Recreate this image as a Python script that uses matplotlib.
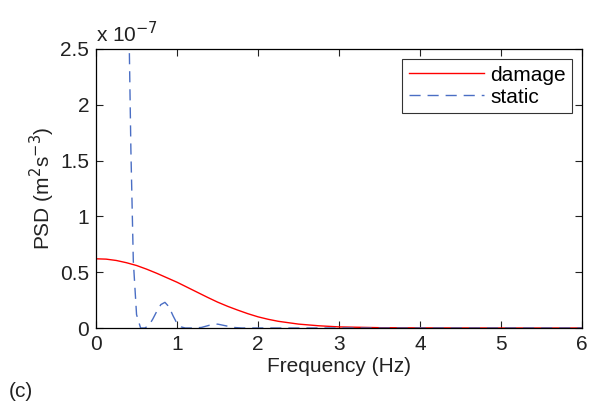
import matplotlib.pyplot as plt

plt.rcParams["font.family"] = ["Liberation Sans", "DejaVu Sans"]

# PSD values in units of 1e-7 m^2 s^-3
freq_damage = [0.0, 0.125, 0.25, 0.375, 0.5, 0.625, 0.75, 0.875, 1.0, 1.125, 1.25,
               1.375, 1.5, 1.625, 1.75, 1.875, 2.0, 2.125, 2.25, 2.5, 2.75,
               3.0, 3.5, 4.0, 5.0, 6.0]
psd_damage = [0.62, 0.617, 0.605, 0.585, 0.56, 0.527, 0.49, 0.45, 0.41, 0.365,
              0.32, 0.275, 0.232, 0.194, 0.16, 0.128, 0.10, 0.078, 0.06, 0.035,
              0.02, 0.01, 0.003, 0.001, 0.0, 0.0]

freq_static = [0.0, 0.2, 0.35, 0.40, 0.43, 0.46, 0.50, 0.55, 0.60, 0.65, 0.70,
               0.75, 0.80, 0.85, 0.90, 0.95, 1.00, 1.05, 1.10, 1.20, 1.30, 1.40,
               1.50, 1.60, 1.70, 1.80, 2.0, 3.0, 4.0, 5.0, 6.0]
psd_static = [40.0, 20.0, 6.0, 3.0, 1.6, 0.6, 0.12, 0.0, 0.0, 0.02, 0.08,
              0.15, 0.21, 0.23, 0.19, 0.11, 0.04, 0.01, 0.0, 0.0, 0.005, 0.025,
              0.035, 0.02, 0.005, 0.0, 0.0, 0.0, 0.0, 0.0, 0.0]

fig = plt.figure(figsize=(6.04, 4.01), dpi=100)
ax = fig.add_axes([0.159, 0.182, 0.805, 0.696])

ax.plot(freq_damage, psd_damage, color="#ff0000", linewidth=1.0, label="damage")
ax.plot(freq_static, psd_static, color="#4a6ec4", linewidth=1.0,
        linestyle=(0, (8, 5)), label="static")

ax.set_xlim(0, 6)
ax.set_ylim(0, 2.5)
ax.set_xticks(range(0, 7))
ax.set_yticks([0, 0.5, 1, 1.5, 2, 2.5])
ax.set_yticklabels(["0", "0.5", "1", "1.5", "2", "2.5"])
ax.tick_params(direction="in", top=True, right=True, labelsize=15, length=5,
               width=0.8, pad=5, colors="#222222")
for side in ax.spines.values():
    side.set_linewidth(0.9)

ax.set_xlabel("Frequency (Hz)", fontsize=15, labelpad=2, color="#222222")
ax.set_ylabel(r"PSD (m$^2$s$^{-3}$)", fontsize=15, labelpad=2, color="#222222")
ax.text(0.0, 1.01, r"x 10$^{-7}$", transform=ax.transAxes, fontsize=15,
        ha="left", va="bottom", color="#222222")

leg = ax.legend(loc="upper right", fontsize=15, frameon=True, fancybox=False,
                edgecolor="black", handlelength=3.6, borderaxespad=0.5,
                labelspacing=0.15, handletextpad=0.3, borderpad=0.3)
leg.get_frame().set_linewidth(0.8)

fig.text(0.015, 0.0, "(c)", fontsize=15, ha="left", va="bottom", color="#222222")

fig.savefig("out.png", dpi=100)
